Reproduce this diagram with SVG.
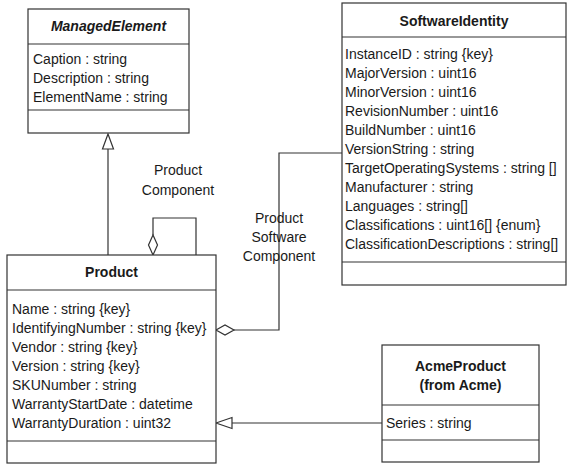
<svg xmlns="http://www.w3.org/2000/svg" width="570" height="465" viewBox="0 0 570 465">
<style>
.box{fill:#fff;stroke:#333;stroke-width:1.2}
.sep{stroke:#333;stroke-width:1.2}
.t{font-family:"Liberation Sans",Arial,sans-serif;font-size:14px;fill:#1a1a1a}
.b{font-weight:bold;text-anchor:middle}
.c{text-anchor:middle}
.ln{fill:none;stroke:#333;stroke-width:1.2}
.hd{fill:#fff;stroke:#333;stroke-width:1.2}
</style>
<g id="connectors">
<path class="ln" d="M108,149 V255"/>
<polygon class="hd" points="108,134 102.5,149 113.5,149"/>
<path class="ln" d="M153,235 V218 H196 V255"/>
<polygon class="hd" points="153,255 148.5,245 153,235 157.5,245"/>
<path class="ln" d="M234,330 H279 V153 H342"/>
<polygon class="hd" points="216,330 225,325 234,330 225,335"/>
<path class="ln" d="M232,423 H382"/>
<polygon class="hd" points="216,423 232,417.5 232,428.5"/>
<text class="t c" x="178" y="175">Product</text>
<text class="t c" x="178" y="195">Component</text>
<text class="t c" x="279" y="223">Product</text>
<text class="t c" x="279" y="242">Software</text>
<text class="t c" x="279" y="261">Component</text>
</g>
<g id="ManagedElement">
<rect class="box" x="28" y="9" width="161" height="124"/>
<line class="sep" x1="28" y1="44" x2="189" y2="44"/>
<line class="sep" x1="28" y1="110" x2="189" y2="110"/>
<text class="t b" x="108.5" y="31" font-style="italic">ManagedElement</text>
<text class="t" x="33" y="64">Caption : string</text>
<text class="t" x="33" y="83">Description : string</text>
<text class="t" x="33" y="102">ElementName : string</text>
</g>
<g id="SoftwareIdentity">
<rect class="box" x="342" y="3" width="224" height="282"/>
<line class="sep" x1="342" y1="37" x2="566" y2="37"/>
<line class="sep" x1="342" y1="262" x2="566" y2="262"/>
<text class="t b" x="454" y="26">SoftwareIdentity</text>
<text class="t" x="345" y="59">InstanceID : string {key}</text>
<text class="t" x="345" y="78">MajorVersion : uint16</text>
<text class="t" x="345" y="97">MinorVersion : uint16</text>
<text class="t" x="345" y="116">RevisionNumber : uint16</text>
<text class="t" x="345" y="135">BuildNumber : uint16</text>
<text class="t" x="345" y="154">VersionString : string</text>
<text class="t" x="345" y="173">TargetOperatingSystems : string []</text>
<text class="t" x="345" y="192">Manufacturer : string</text>
<text class="t" x="345" y="211">Languages : string[]</text>
<text class="t" x="345" y="230">Classifications : uint16[] {enum}</text>
<text class="t" x="345" y="249">ClassificationDescriptions : string[]</text>
</g>
<g id="Product">
<rect class="box" x="7" y="255" width="209" height="208"/>
<line class="sep" x1="7" y1="290" x2="216" y2="290"/>
<line class="sep" x1="7" y1="441" x2="216" y2="441"/>
<text class="t b" x="111.5" y="277">Product</text>
<text class="t" x="12" y="314">Name : string {key}</text>
<text class="t" x="12" y="333">IdentifyingNumber : string {key}</text>
<text class="t" x="12" y="352">Vendor : string {key}</text>
<text class="t" x="12" y="371">Version : string {key}</text>
<text class="t" x="12" y="390">SKUNumber : string</text>
<text class="t" x="12" y="409">WarrantyStartDate : datetime</text>
<text class="t" x="12" y="428">WarrantyDuration : uint32</text>
</g>
<g id="AcmeProduct">
<rect class="box" x="382" y="345" width="157" height="117"/>
<line class="sep" x1="382" y1="405" x2="539" y2="405"/>
<line class="sep" x1="382" y1="440" x2="539" y2="440"/>
<text class="t b" x="460.5" y="371">AcmeProduct</text>
<text class="t b" x="460.5" y="390">(from Acme)</text>
<text class="t" x="386" y="428">Series : string</text>
</g>
</svg>
